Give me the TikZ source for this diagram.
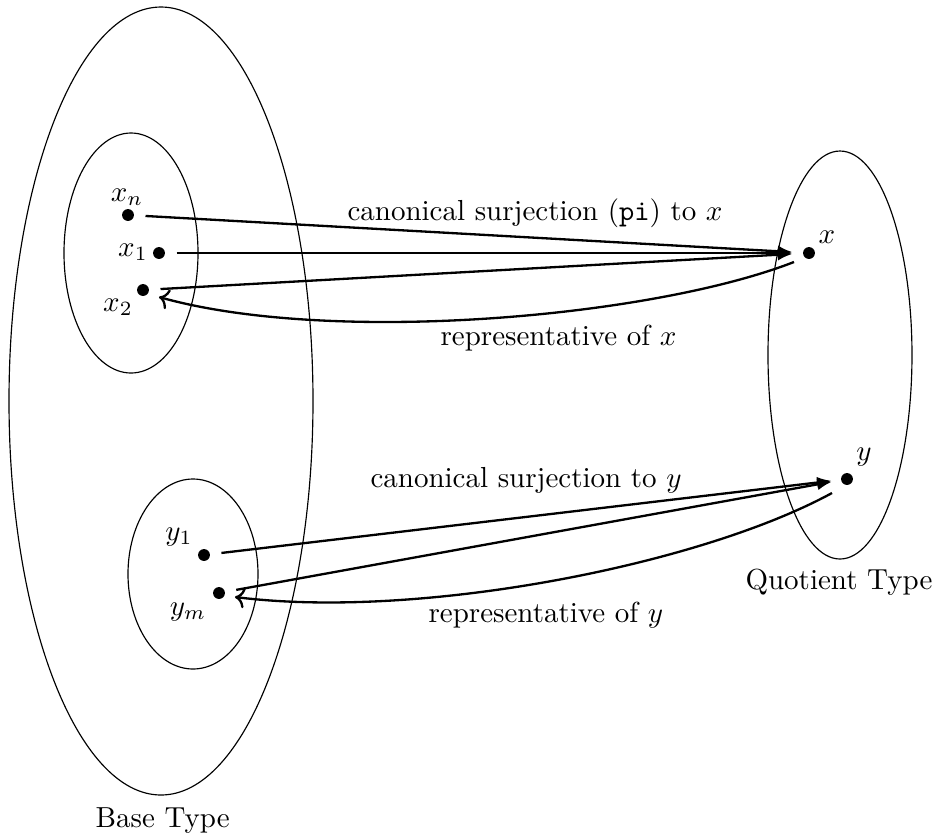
\documentclass[tikz,border=0pt]{standalone}
\usetikzlibrary{arrows.meta,calc}
\begin{document}
\begin{tikzpicture}[x=0.345pt,y=-0.345pt,
  region/.style={draw,line width=0.4pt},
  pt/.style={circle,fill,inner sep=0pt,minimum size=4.1pt},
  lbl/.style={inner sep=0pt},
  mapto/.style={line width=0.8pt,-{Latex[length=5pt,width=4pt]}},
  rep/.style={line width=0.8pt,->}]
\useasboundingbox (0,0) rectangle (939,834);
% regions
\draw[region] (161,401) ellipse [x radius=152, y radius=394];
\draw[region] (131,253) ellipse [x radius=67, y radius=120];
\draw[region] (193,574) ellipse [x radius=65, y radius=95];
\draw[region] (840,355) ellipse [x radius=72, y radius=204];
% points
\node[pt] (xn) at (128,215) {};
\node[pt] (x1) at (159,253) {};
\node[pt] (x2) at (143,290) {};
\node[pt] (x)  at (809,253) {};
\node[pt] (y1) at (204,555) {};
\node[pt] (ym) at (219,593) {};
\node[pt] (y)  at (847,479) {};
% point labels
\node[lbl] (lxn) at (127,197) {$x_n$};
\node[lbl] (lx1) at (133,252) {$x_1$};
\node[lbl] (lx2) at (118,307) {$x_2$};
\node[lbl] (lx)  at (827,237) {$x$};
\node[lbl] (ly1) at (179,537) {$y_1$};
\node[lbl] (lym) at (188,612) {$y_m$};
\node[lbl] (ly)  at (864,457) {$y$};
% arrows
\draw[mapto,shorten <=3.8pt,shorten >=3.5pt] (xn) -- (x);
\draw[mapto,shorten <=3.8pt,shorten >=3.5pt] (x1) -- (x);
\draw[mapto,shorten <=3.8pt,shorten >=3.5pt] (x2) -- (x);
\draw[mapto,shorten <=3.8pt,shorten >=3.1pt] (y1) -- (y);
\draw[mapto,shorten <=3.8pt,shorten >=3.1pt] (ym) -- (y);
\draw[rep] ($(x)+(-15,9)$) .. controls (650,318) and (330,345) .. ($(x2)+(16,7)$);
\draw[rep] ($(y)+(-15,14)$) .. controls (700,565) and (420,620) .. ($(ym)+(16,4)$);
% texts
\node[lbl,anchor=base west] (tcx) at (347,220) {canonical surjection (\texttt{pi}) to $x$};
\node[lbl,anchor=base west] (trx) at (440,345) {representative of $x$};
\node[lbl,anchor=base west] (tcy) at (370,487) {canonical surjection to $y$};
\node[lbl,anchor=base west] (try) at (428,622) {representative of $y$};
\node[lbl,anchor=base west] (tbase) at (95,827) {Base Type};
\node[lbl,anchor=base west] (tquot) at (745,589) {Quotient Type};
\end{tikzpicture}
\end{document}
